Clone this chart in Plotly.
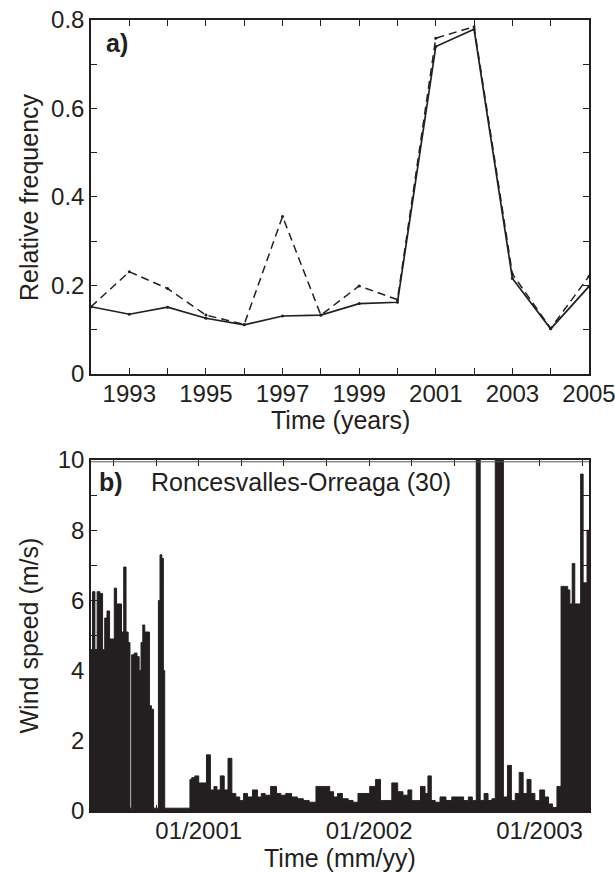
import plotly.graph_objects as go

# ---------------- Panel a data ----------------
years = [1992, 1993, 1994, 1995, 1996, 1997, 1998, 1999, 2000, 2001, 2002, 2003, 2004, 2005]
freq_solid = [0.152, 0.135, 0.151, 0.126, 0.111, 0.131, 0.133, 0.159, 0.162, 0.740, 0.779, 0.216, 0.102, 0.198]
freq_dashed = [0.152, 0.231, 0.193, 0.133, 0.112, 0.356, 0.133, 0.199, 0.168, 0.759, 0.785, 0.226, 0.103, 0.221]
year_ticks = list(range(1992, 2006))
year_ticklabels = [str(y) if y % 2 == 1 else "" for y in year_ticks]
freq_ticks = [0, 0.1, 0.2, 0.3, 0.4, 0.5, 0.6, 0.7, 0.8]
freq_ticklabels = ["0", "", "0.2", "", "0.4", "", "0.6", "", "0.8"]

# ---------------- Panel b data (decimal years, wind speed m/s) ----------------
wind_time = [
    2000.360, 2000.369, 2000.385, 2000.397, 2000.411, 2000.429, 2000.443, 2000.454, 2000.470,
    2000.484, 2000.498, 2000.511, 2000.525, 2000.541, 2000.553, 2000.567, 2000.580, 2000.592,
    2000.601, 2000.612, 2000.631, 2000.645, 2000.656, 2000.667, 2000.677, 2000.690, 2000.704,
    2000.718, 2000.727, 2000.743, 2000.759, 2000.768, 2000.778, 2000.789, 2000.796, 2000.805,
    2000.874, 2000.945, 2000.952, 2000.966, 2000.989, 2001.011, 2001.034, 2001.057, 2001.080,
    2001.099, 2001.115, 2001.138, 2001.161, 2001.183, 2001.206, 2001.229, 2001.252, 2001.275,
    2001.298, 2001.333, 2001.356, 2001.378, 2001.401, 2001.443, 2001.470, 2001.493, 2001.528,
    2001.562, 2001.596, 2001.631, 2001.665, 2001.711, 2001.734, 2001.757, 2001.780, 2001.803,
    2001.826, 2001.860, 2001.894, 2001.917, 2001.952, 2001.986, 2002.021, 2002.055, 2002.078,
    2002.112, 2002.154, 2002.181, 2002.216, 2002.239, 2002.261, 2002.284, 2002.319, 2002.337,
    2002.353, 2002.376, 2002.399, 2002.433, 2002.468, 2002.502, 2002.537, 2002.571, 2002.594,
    2002.617, 2002.640, 2002.663, 2002.686, 2002.709, 2002.732, 2002.748, 2002.775, 2002.800,
    2002.823, 2002.846, 2002.869, 2002.892, 2002.915, 2002.938, 2002.961, 2002.984, 2003.018,
    2003.041, 2003.064, 2003.087, 2003.117, 2003.135, 2003.158, 2003.172, 2003.183, 2003.200,
    2003.213, 2003.232, 2003.250, 2003.261, 2003.273, 2003.284, 2003.296,
]
wind_speed = [
    4.6, 4.6, 6.25, 4.6, 6.25, 6.2, 4.6, 5.5, 5.7,
    4.9, 4.9, 6.35, 5.9, 5.9, 5.1, 6.95, 5.1, 4.8,
    0.08, 4.45, 4.5, 4.4, 4.0, 4.8, 5.3, 5.1, 5.1,
    3.0, 2.9, 0.08, 0.08, 6.0, 7.3, 7.2, 4.0, 0.08,
    0.08, 0.08, 0.9, 0.95, 1.0, 0.8, 0.8, 1.6, 0.6,
    0.7, 0.6, 1.0, 0.6, 1.5, 0.5, 0.4, 0.3, 0.5,
    0.4, 0.6, 0.4, 0.5, 0.45, 0.7, 0.5, 0.45, 0.5,
    0.4, 0.35, 0.3, 0.25, 0.7, 0.7, 0.7, 0.55, 0.4,
    0.5, 0.35, 0.3, 0.25, 0.5, 0.5, 0.7, 0.9, 0.3,
    0.3, 0.8, 0.55, 0.45, 0.6, 0.3, 0.3, 0.7, 0.5,
    1.0, 0.3, 0.25, 0.4, 0.3, 0.4, 0.4, 0.3, 0.4,
    0.3, 10.5, 0.3, 0.5, 0.3, 0.35, 10.5, 10.5, 0.4,
    1.3, 0.3, 0.5, 1.1, 0.5, 0.9, 0.5, 0.3, 0.6,
    0.4, 0.2, 0.1, 0.7, 6.4, 6.4, 6.3, 5.9, 7.05,
    5.9, 5.9, 9.6, 6.5, 6.5, 8.0, 6.5,
]
date_ticks = [2000.5, 2000.75, 2001.0, 2001.25, 2001.5, 2001.75, 2002.0, 2002.25, 2002.5, 2002.75, 2003.0, 2003.25]
date_ticklabels = ["", "", "01/2001", "", "", "", "01/2002", "", "", "", "01/2003", ""]
speed_ticks = list(range(0, 11))
speed_ticklabels = [str(v) if v % 2 == 0 else "" for v in speed_ticks]

FONT = "Liberation Sans, Arial, sans-serif"
FS_TICK = 24
FS_TITLE = 25
INK = "#231f20"

fig = go.Figure()
fig.add_trace(go.Scatter(x=years, y=freq_solid, mode="lines+markers",
                         line=dict(color=INK, width=1.7),
                         marker=dict(size=3, color=INK),
                         xaxis="x", yaxis="y", showlegend=False))
fig.add_trace(go.Scatter(x=years, y=freq_dashed, mode="lines+markers",
                         line=dict(color=INK, width=1.5, dash="8px,5px"),
                         marker=dict(size=3, color=INK),
                         xaxis="x", yaxis="y", showlegend=False))
fig.add_trace(go.Scatter(x=wind_time, y=wind_speed, mode="lines",
                         line=dict(color=INK, width=1, shape="hvh"),
                         fill="tozeroy", fillcolor=INK,
                         xaxis="x2", yaxis="y2", showlegend=False))

axis_common = dict(showgrid=False, zeroline=False, showline=True, linecolor=INK,
                   linewidth=1.5, mirror="ticks", ticks="inside", ticklen=6,
                   tickcolor=INK, tickwidth=1.3, ticklabeloverflow="allow", automargin=False,
                   tickfont=dict(family=FONT, size=FS_TICK, color=INK))

top_dom = [0.5525, 1.0]
bot_dom = [0.0, 0.4437]

fig.update_layout(
    template="none",
    width=615, height=873,
    margin=dict(l=91, r=26, t=20, b=62),
    paper_bgcolor="white", plot_bgcolor="white",
    xaxis=dict(domain=[0, 1], range=[1992, 2005], tickmode="array", ticklabelstandoff=-3,
               tickvals=year_ticks, ticktext=year_ticklabels, anchor="y", **axis_common),
    yaxis=dict(domain=top_dom, range=[0, 0.8], tickmode="array",
               tickvals=freq_ticks, ticktext=freq_ticklabels, anchor="x", **axis_common),
    xaxis2=dict(domain=[0, 1], range=[2000.368, 2003.29], tickmode="array", ticklabelstandoff=-3,
                tickvals=date_ticks, ticktext=date_ticklabels, anchor="y2", **axis_common),
    yaxis2=dict(domain=bot_dom, range=[0, 10], tickmode="array",
                tickvals=speed_ticks, ticktext=speed_ticklabels, anchor="x2", **axis_common),
)

ann_font = dict(family=FONT, size=FS_TITLE, color=INK)
annotations = [
    dict(text="Relative frequency", xref="paper", yref="paper", x=0, y=sum(top_dom) / 2,
         xshift=-62, textangle=-90, showarrow=False, font=ann_font, xanchor="center", yanchor="middle"),
    dict(text="Wind speed (m/s)", xref="paper", yref="paper", x=0, y=sum(bot_dom) / 2,
         xshift=-62, textangle=-90, showarrow=False, font=ann_font, xanchor="center", yanchor="middle"),
    dict(text="Time (years)", xref="paper", yref="paper", x=0.5, y=top_dom[0],
         yshift=-46, showarrow=False, font=ann_font, xanchor="center", yanchor="middle"),
    dict(text="Time (mm/yy)", xref="paper", yref="paper", x=0.5, y=bot_dom[0],
         yshift=-47, showarrow=False, font=ann_font, xanchor="center", yanchor="middle"),
    dict(text="<b>a)</b>", xref="paper", yref="paper", x=0, y=top_dom[1],
         xshift=13, yshift=-23, showarrow=False, font=ann_font, xanchor="left", yanchor="middle"),
    dict(text="<b>b)</b>", xref="paper", yref="paper", x=0, y=bot_dom[1],
         xshift=6, yshift=-22, showarrow=False, font=ann_font, xanchor="left", yanchor="middle"),
    dict(text="Roncesvalles-Orreaga (30)", xref="paper", yref="paper", x=0, y=bot_dom[1],
         xshift=58, yshift=-22, showarrow=False, font=ann_font, xanchor="left", yanchor="middle"),
]
fig.update_layout(annotations=annotations)

fig.add_shape(type="line", xref="x2 domain", yref="y2", x0=0, x1=1, y0=9.95, y1=9.95,
              line=dict(color="#555555", width=1))

fig.write_html("out.html")
